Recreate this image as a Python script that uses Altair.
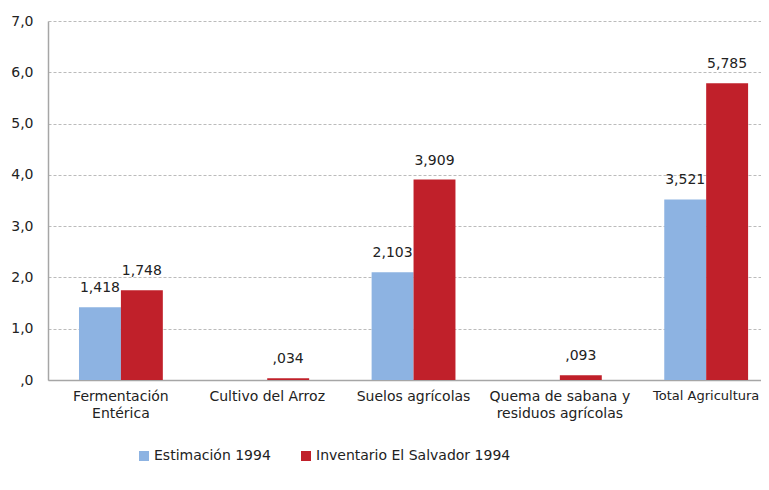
import altair as alt
import pandas as pd

categories = ["Fermentación|Entérica", "Cultivo del Arroz", "Suelos agrícolas",
              "Quema de sabana y|residuos agrícolas", "Total Agricultura"]
series = ["Estimación 1994", "Inventario El Salvador 1994"]
estimacion = [1.418, None, 2.103, None, 3.521]
inventario = [1.748, 0.034, 3.909, 0.093, 5.785]
colors = ["#8DB3E2", "#C0202A"]
y_ticks = [0, 1, 2, 3, 4, 5, 6, 7]


def fmt(v):
    if v is None:
        return None
    s = f"{v:.3f}".replace(".", ",")
    if s.startswith("0,"):
        s = s[1:]
    return s


rows = []
for c, e, i in zip(categories, estimacion, inventario):
    rows.append({"cat": c, "serie": series[0], "valor": e, "label": fmt(e)})
    rows.append({"cat": c, "serie": series[1], "valor": i, "label": fmt(i)})
df = pd.DataFrame(rows)

FONT = "DejaVu Sans"
TXT = "#222222"

x = alt.X("cat:N", sort=categories,
          scale=alt.Scale(paddingInner=0.427, paddingOuter=0.150, align=0.706, round=False),
          axis=alt.Axis(title=None, labelAngle=0, labelExpr="split(datum.label, '|')",
                        labelFontSize={"condition": {"test": "datum.value === 'Total Agricultura'",
                                                     "value": 13}, "value": 14},
                        labelColor=TXT, labelFont=FONT,
                        labelPadding=9, labelLineHeight=17, ticks=False,
                        domainColor="#A6A6A6", domainWidth=1.5, grid=False,
                        labelBaseline="top", labelLimit=300, labelOverlap=False))
xo = alt.XOffset("serie:N", sort=series,
                 scale=alt.Scale(paddingInner=0, paddingOuter=0, round=False))
y = alt.Y("valor:Q", scale=alt.Scale(domain=[0, 7], nice=False),
          axis=alt.Axis(title=None, values=y_ticks, ticks=False,
                        labelExpr="datum.value == 0 ? ',0' : replace(format(datum.value, '.1f'), '.', ',')",
                        labelFontSize=14, labelColor=TXT, labelFont=FONT,
                        labelPadding=15, domainColor="#A6A6A6", domainWidth=1.5,
                        grid=True, gridColor="#BBBBBB", gridDash=[3, 2], gridWidth=1))
color = alt.Color("serie:N", sort=series,
                  scale=alt.Scale(domain=series, range=colors),
                  legend=alt.Legend(title=None, orient="none", legendX=89, legendY=428,
                                    direction="horizontal", symbolType="square",
                                    symbolSize=100, symbolStrokeWidth=0,
                                    labelFontSize=14, labelFont=FONT, labelColor=TXT,
                                    columnPadding=28, labelOffset=3, labelLimit=400))

base = alt.Chart(df)
bars = base.mark_bar().encode(x=x, xOffset=xo, y=y, color=color)
texts = base.transform_filter("datum.valor != null").mark_text(
    dy=-19, baseline="middle", align="center", fontSize=14, font=FONT, color=TXT
).encode(x=x, xOffset=xo, y=y, text="label:N")

chart = (bars + texts).properties(
    width=713, height=359,
    autosize=alt.AutoSizeParams(type="none"),
    padding={"left": 40, "top": 13, "right": 0, "bottom": 90},
).configure_view(stroke=None)

chart.save("out.html", embed_options={"renderer": "svg", "actions": False})
